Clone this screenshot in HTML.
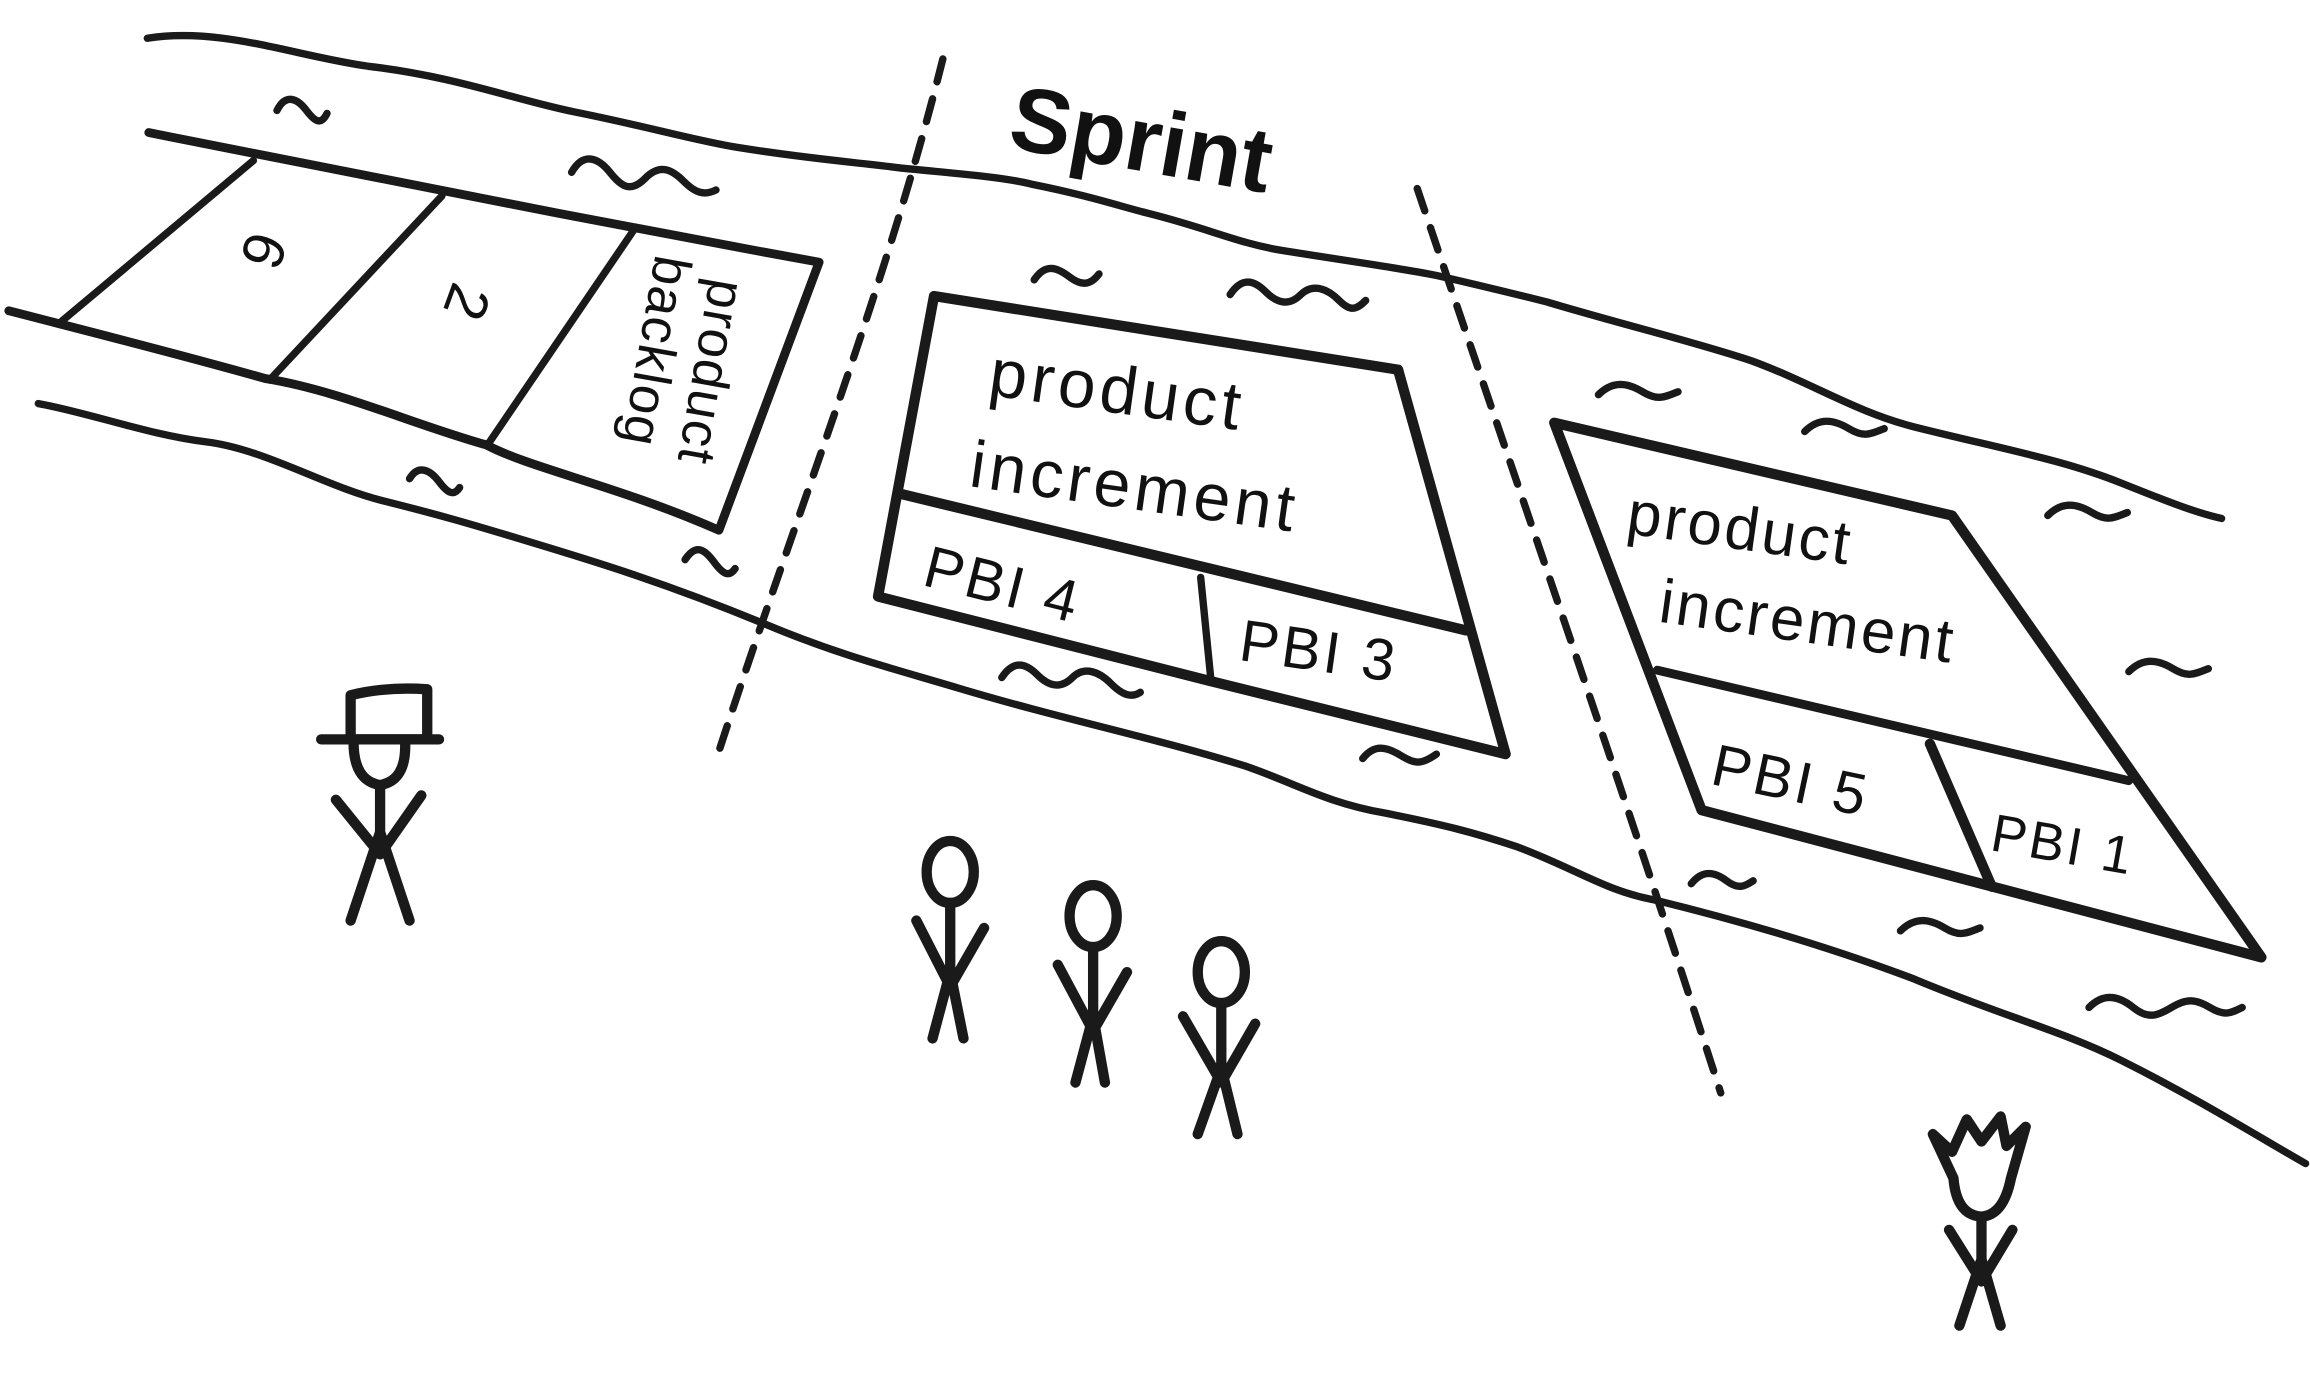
<!DOCTYPE html>
<html><head><meta charset="utf-8"><style>
html,body{margin:0;padding:0;background:#fff;}
svg{display:block}
text{font-family:"Liberation Sans",sans-serif;fill:#111}
</style></head><body>
<svg width="2310" height="1386" viewBox="0 0 1568 941" preserveAspectRatio="none" xmlns="http://www.w3.org/2000/svg">
<rect width="1568" height="941" fill="#fff"/>
<g fill="none" stroke="#1a1a1a" stroke-linecap="round" stroke-linejoin="round">
<!-- river top -->
<path stroke-width="5" d="M100,26 C150,18 200,38 250,45 C310,52 350,68 390,76 C440,86 470,95 500,100 C550,108 580,110 611,114 C650,118 680,120 700,125 C740,133 760,140 780,145 C820,155 840,165 870,170 C920,178 950,182 975,187 C1010,195 1030,200 1050,205 C1100,220 1150,232 1189,245 C1230,260 1260,280 1300,290 C1360,305 1400,312 1440,328 C1470,340 1490,348 1508,352"/>
<!-- river bottom -->
<path stroke-width="5" d="M26,274 C60,280 100,295 140,300 C180,305 220,330 260,340 C300,350 320,356 350,365 C400,380 450,395 520,424 C570,445 610,455 650,467 C720,488 780,500 845,520 C880,532 900,545 940,552 C980,560 1000,565 1030,575 C1070,590 1090,605 1123,611 C1180,625 1240,642 1300,665 C1360,690 1400,700 1440,720 C1490,745 1530,770 1565,790"/>
<!-- backlog strip -->
<path stroke-width="6" d="M101,90 C200,110 300,130 380,145 C450,158 500,168 556,178 L488,360 C420,330 360,318 330,302 C280,288 230,265 180,257 C120,240 60,225 6,211"/>
<path stroke-width="5" d="M42,218 L172,109 M183,258 L300,133 M331,302 L431,155"/>
<!-- dashed lines -->
<path stroke-width="5" stroke-dasharray="16,12" d="M640,40 C600,200 540,350 488,510"/>
<path stroke-width="5" stroke-dasharray="16,12" d="M962,128 C1030,330 1100,530 1168,742"/>
<!-- middle box -->
<path stroke-width="7" d="M634,201 L949,251 L1022,512 L820,462 L596,405 Z"/>
<path stroke-width="7" d="M610,335 L995,428"/>
<path stroke-width="5" d="M815,392 L822,462"/>
<!-- right box -->
<path stroke-width="7" d="M1055,287 L1325,350 L1535,650 L1155,550 Z"/>
<path stroke-width="6" d="M1125,455 L1445,530"/>
<path stroke-width="7" d="M1310,505 L1352,602"/>
<!-- tildes -->
<g stroke-width="5">
<path d="M188,75 c6,-12 14,-8 20,0 s10,10 14,2"/>
<path d="M388,117 c8,-14 18,-10 26,0 s14,14 24,4 s18,-6 26,2 s14,10 22,6"/>
<path d="M702,190 c8,-12 16,-8 24,-2 s14,6 20,-2"/>
<path d="M835,200 c8,-12 16,-10 24,-2 s16,10 24,2 s18,-4 26,4 s12,6 18,0"/>
<path d="M278,325 c6,-10 14,-6 20,2 s10,10 14,4"/>
<path d="M465,380 c8,-12 14,-6 20,2 s10,10 14,4"/>
<path d="M680,460 c8,-12 16,-10 24,-2 s16,10 24,2 s18,-4 26,4 s14,10 20,6"/>
<path d="M925,515 c8,-10 16,-8 26,-2 s14,6 24,-1"/>
<path d="M1085,268 c10,-10 20,-8 30,-2 s14,4 24,0"/>
<path d="M1225,293 c10,-10 20,-8 30,-2 s14,4 24,0"/>
<path d="M1390,350 c10,-10 20,-8 30,-2 s14,4 24,0"/>
<path d="M1445,456 c10,-10 20,-8 30,-2 s14,4 24,0"/>
<path d="M1148,600 c8,-10 16,-8 24,-2 s12,4 18,0"/>
<path d="M1290,632 c10,-10 20,-8 30,-2 s14,4 24,0"/>
<path d="M1418,684 c10,-10 20,-8 30,0 s16,6 26,0 s16,-6 26,0 s14,4 22,0"/>
</g>
<!-- hat figure -->
<g stroke-width="7">
<path d="M238,472 Q262,466 290,468 L290,502 L238,502 Z"/>
<path d="M218,502 L298,502"/>
<path d="M240,504 Q240,530 258,533 Q276,530 275,504"/>
<path d="M258,533 L258,565 L238,625 M258,565 L278,625 M228,543 L258,580 L286,540"/>
</g>
<!-- three figures -->
<g stroke-width="7">
<ellipse cx="645" cy="592" rx="16" ry="21"/>
<path d="M645,613 L645,660 L633,705 M645,660 L654,705 M622,625 L645,670 L668,630"/>
<ellipse cx="742" cy="622" rx="16" ry="21"/>
<path d="M742,643 L742,690 L730,735 M742,690 L750,735 M718,655 L742,700 L765,660"/>
<ellipse cx="829" cy="660" rx="16" ry="21"/>
<path d="M829,681 L829,725 L813,770 M829,725 L840,770 M803,690 L829,735 L852,695"/>
</g>
<!-- crown figure -->
<g stroke-width="7">
<path d="M1312,770 L1325,782 L1335,760 L1345,775 L1358,758 L1362,778 L1375,765 L1365,800 Q1360,825 1345,826 Q1328,825 1326,800 Z"/>
<path d="M1345,826 L1345,855 L1330,900 M1345,855 L1358,900 M1323,835 L1345,870 L1366,835"/>
</g>
</g>
<!-- texts -->
<text x="683" y="100" font-size="62" font-weight="bold" transform="rotate(10 683 100)">Sprint</text>
<text x="670" y="268" font-size="46" transform="rotate(8 670 268)" letter-spacing="3">product</text>
<text x="657" y="330" font-size="45" transform="rotate(8 657 330)" letter-spacing="3">increment</text>
<text x="625" y="397" font-size="40" transform="rotate(14 625 397)" letter-spacing="2">PBI 4</text>
<text x="840" y="448" font-size="40" transform="rotate(8 840 448)" letter-spacing="2">PBI 3</text>
<text x="1103" y="362" font-size="42" transform="rotate(8 1103 362)" letter-spacing="2">product</text>
<text x="1125" y="422" font-size="42" transform="rotate(8 1125 422)" letter-spacing="2">increment</text>
<text x="1160" y="532" font-size="40" transform="rotate(12 1160 532)" letter-spacing="2">PBI 5</text>
<text x="1350" y="577" font-size="36" transform="rotate(10 1350 577)" letter-spacing="2">PBI 1</text>
<text x="482" y="188" font-size="36" transform="rotate(100 482 188)" letter-spacing="1">product</text>
<text x="445" y="172" font-size="36" transform="rotate(100 445 172)" letter-spacing="1">backlog</text>
<text x="170" y="155" font-size="40" transform="rotate(110 170 155)">6</text>
<text x="308" y="190" font-size="40" transform="rotate(110 308 190)">2</text>
</svg>
</body></html>
